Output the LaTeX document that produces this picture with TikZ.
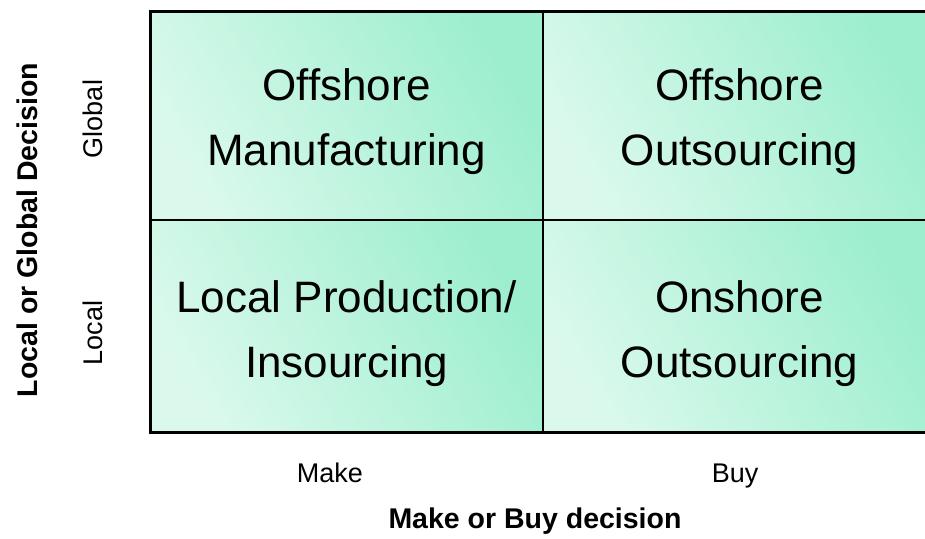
\documentclass[tikz,border=0pt]{standalone}
\usepackage{fontspec}
\setmainfont{Liberation Sans}
\usetikzlibrary{calc}
\definecolor{mintlight}{RGB}{218,249,236}
\definecolor{mintdark}{RGB}{156,238,206}
\tikzstyle{cellshade}=[left color=mintlight, right color=mintdark, shading angle=120]
\tikzstyle{celltext}=[align=center, font=\fontsize{44}{65}\selectfont]
\tikzstyle{ticktext}=[font=\fontsize{27}{32}\selectfont]
\tikzstyle{axistext}=[font=\fontsize{28.5}{34}\selectfont\bfseries]

\begin{document}
\begin{tikzpicture}[x=1pt,y=-1pt]
	\useasboundingbox (0,0) rectangle (925,538);
	\begin{scope}
		\clip (0,0) rectangle (925,538);
		\shade[cellshade] (150,11) rectangle (543,220);
		\shade[cellshade] (543,11) rectangle (937,220);
		\shade[cellshade] (150,220) rectangle (543,432);
		\shade[cellshade] (543,220) rectangle (937,432);
		\draw[line width=1.2pt] (543,11) -- (543,432);
		\draw[line width=1.2pt] (150,220) -- (937,220);
		\draw[line width=3pt] (150,11) rectangle (937,432);
	\end{scope}
	% quadrant texts
	\node[celltext] (offman) at (346.5,121.5) {Offshore\\Manufacturing};
	\node[celltext] (offout) at (739.5,121.5) {Offshore\\Outsourcing};
	\node[celltext] (locprod) at (346.5,333.5) {Local Production/\\Insourcing};
	\node[celltext] (onout) at (739.5,333.5) {Onshore\\Outsourcing};
	% axes
	\node[ticktext, anchor=base] (make) at (330,482) {Make};
	\node[ticktext, anchor=base] (buy) at (735,482) {Buy};
	\node[axistext, anchor=base] (makebuy) at (535,528) {Make or Buy decision};
	\node[ticktext, rotate=90] (global) at (93,119) {Global};
	\node[ticktext, rotate=90] (local) at (93,333) {Local};
	\node[axistext, rotate=90] (locglob) at (27,230) {Local or Global Decision};
\end{tikzpicture}
\end{document}
